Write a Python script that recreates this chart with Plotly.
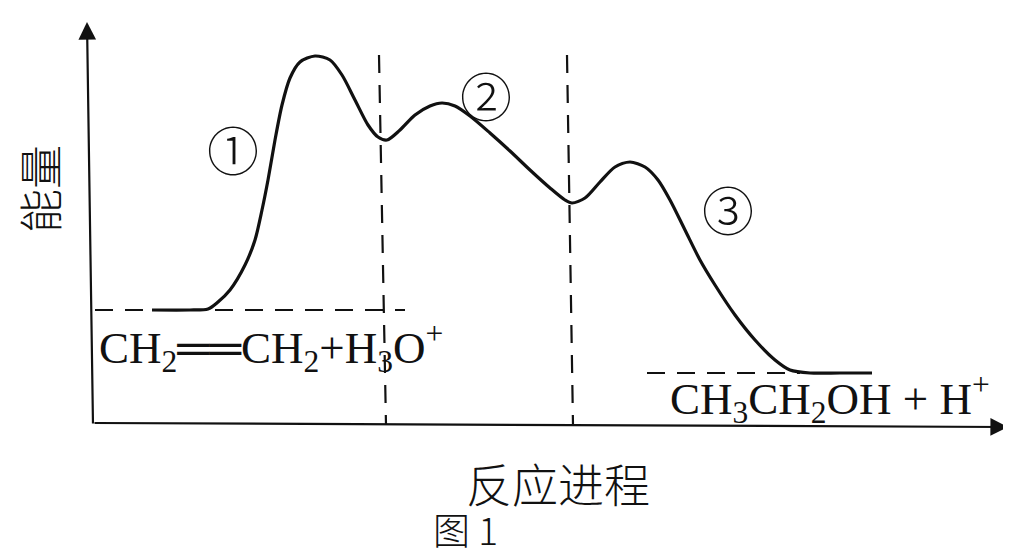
import plotly.graph_objects as go

W, H = 1011, 557
OFF = 8  # page body margin

# Energy profile curve (reaction progress, energy)
progress = [152, 190, 208, 218, 230, 245, 255, 262, 268, 275, 282, 290, 300, 315, 330, 342, 355,
            368, 378, 387, 400, 415, 430, 442, 455, 470, 490, 510, 530, 550, 565, 572, 585,
            600, 615, 630, 645, 658, 670, 685, 700, 715, 735, 755, 775, 790, 810, 840, 872]
energy_px = [310, 310, 309, 302, 290, 265, 240, 210, 180, 140, 105, 78, 62, 56, 60, 75, 100,
             125, 137, 140, 130, 115, 106, 103, 106, 116, 133, 151, 170, 188, 200, 203, 198,
             182, 167, 162, 167, 180, 200, 230, 260, 285, 315, 340, 360, 370, 373, 373, 373]
energy = [H - v for v in energy_px]

# Reference levels
reactant_level = H - 310
product_level = H - 373
stage_bounds = [(379, 386), (567, 573)]

stage_labels = ["①", "②", "③"]
reactant_label = "CH<sub>2</sub>══CH<sub>2</sub>+H<sub>3</sub>O<sup>+</sup>"
product_label = "CH<sub>3</sub>CH<sub>2</sub>OH + H<sup>+</sup>"
y_title = "能量"
x_title = "反应进程"
caption = "图 1"

fig = go.Figure()

dash = dict(color="#111", width=2.2, dash="18px,12px")
fig.add_trace(go.Scatter(x=[95, 405], y=[reactant_level, reactant_level], mode="lines",
                         line=dash, hoverinfo="skip"))
fig.add_trace(go.Scatter(x=[647, 800], y=[product_level, product_level], mode="lines",
                         line=dash, hoverinfo="skip"))
for top, bot in stage_bounds:
    fig.add_trace(go.Scatter(x=[top, bot], y=[H - 55, H - 425], mode="lines",
                             line=dash, hoverinfo="skip"))

fig.add_trace(go.Scatter(x=progress, y=energy, mode="lines",
                         line=dict(color="#111", width=3.2, shape="spline", smoothing=0.8),
                         hoverinfo="skip"))

ann = []
ann.append(dict(x=87, y=H - 22, ax=93, ay=H - 425, xref="x", yref="y", axref="x", ayref="y",
                showarrow=True, arrowhead=2, arrowsize=1.6, arrowwidth=2.2, arrowcolor="#111", text=""))
ann.append(dict(x=1008, y=H - 427, ax=93, ay=H - 423, xref="x", yref="y", axref="x", ayref="y",
                showarrow=True, arrowhead=2, arrowsize=1.6, arrowwidth=2.2, arrowcolor="#111", text=""))

cjk = "Noto Sans CJK SC"
serif = "Liberation Serif"
label_pos = [(233, 148), (486, 94), (728, 208)]
for t, (px, py) in zip(stage_labels, label_pos):
    ann.append(dict(x=px, y=H - py, text=t, showarrow=False, xref="x", yref="y",
                    font=dict(family=cjk, size=52, color="#111", weight=300)))
ann.append(dict(x=97, y=H - 347, text=reactant_label, showarrow=False, xref="x", yref="y",
                xanchor="left", font=dict(family=serif, size=45, color="#111")))
ann.append(dict(x=668, y=H - 398, text=product_label, showarrow=False, xref="x", yref="y",
                xanchor="left", font=dict(family=serif, size=45, color="#111")))
ann.append(dict(x=39, y=H - 189, text=y_title, showarrow=False, xref="x", yref="y", textangle=-90,
                font=dict(family=cjk, size=44, color="#111", weight=300)))
ann.append(dict(x=558, y=H - 482, text=x_title, showarrow=False, xref="x", yref="y",
                font=dict(family=cjk, size=46, color="#111", weight=300)))
ann.append(dict(x=465, y=H - 529, text=caption, showarrow=False, xref="x", yref="y",
                borderpad=0, font=dict(family=cjk, size=37, color="#111", weight=300)))

fig.update_layout(
    width=W - OFF, height=H - OFF, margin=dict(l=0, r=0, t=0, b=0),
    paper_bgcolor="white", plot_bgcolor="white", showlegend=False,
    xaxis=dict(range=[OFF, W], visible=False, fixedrange=True),
    yaxis=dict(range=[0, H - OFF], visible=False, fixedrange=True),
    annotations=ann,
)
fig.write_html("out.html", config={"displayModeBar": False})
